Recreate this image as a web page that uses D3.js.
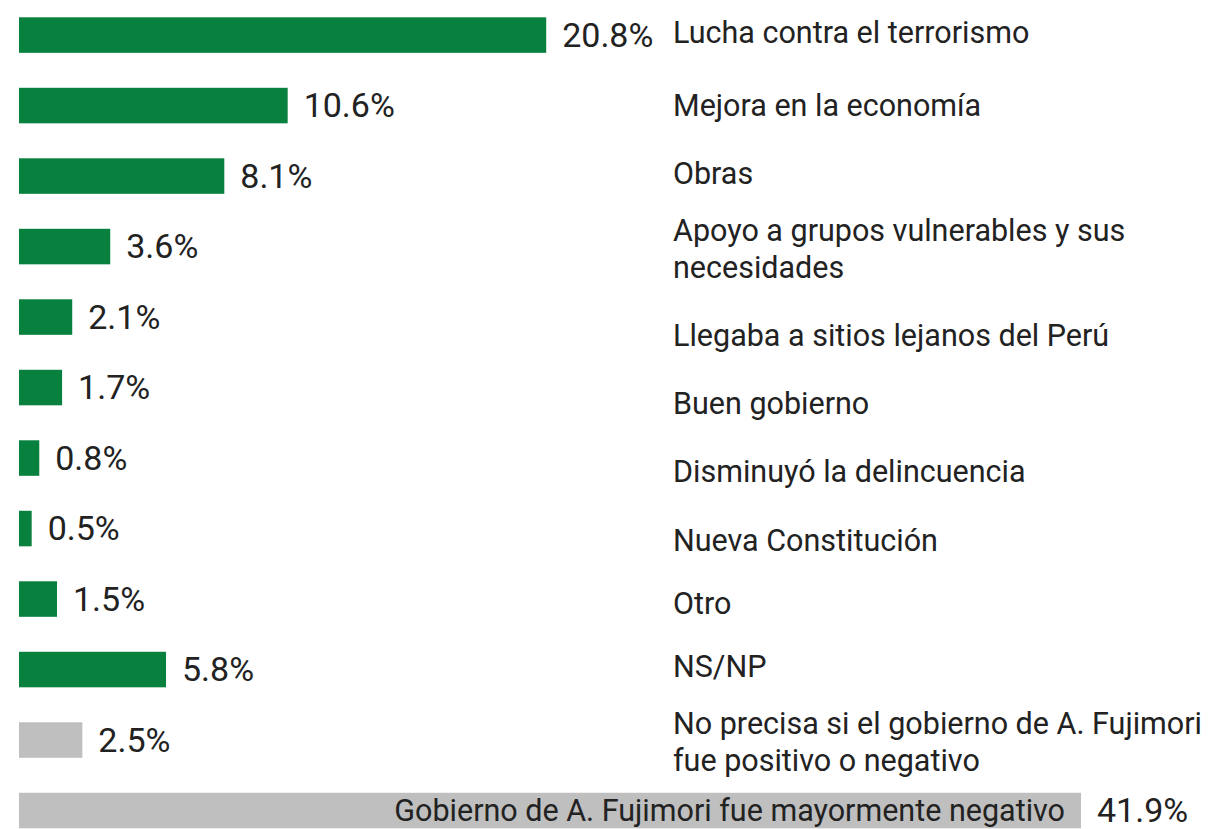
<!DOCTYPE html>
<html>
<head>
<meta charset="utf-8">
<script src="https://cdn.jsdelivr.net/npm/d3@7"></script>
<style>
  body { margin: 0; background: #fff; }
  text { font-family: Roboto, "Noto Sans", sans-serif; fill: #222; }
</style>
</head>
<body>
<div id="chart"></div>
<script>
// chart data
const categories = [
  "Lucha contra el terrorismo",
  "Mejora en la economía",
  "Obras",
  "Apoyo a grupos vulnerables y sus|necesidades",
  "Llegaba a sitios lejanos del Perú",
  "Buen gobierno",
  "Disminuyó la delincuencia",
  "Nueva Constitución",
  "Otro",
  "NS/NP",
  "No precisa si el gobierno de A. Fujimori|fue positivo o negativo",
  "Gobierno de A. Fujimori fue mayormente negativo"
];
const values = [20.8, 10.6, 8.1, 3.6, 2.1, 1.7, 0.8, 0.5, 1.5, 5.8, 2.5, 41.9];
const groups = ["pos", "pos", "pos", "pos", "pos", "pos", "pos", "pos", "pos", "pos", "neutral", "neg"];

const width = 1209, height = 829;

// hand-placed label offsets (px) as in the original layout
const labelShift = [-2.5, 0, -2.3, 2.3, 18, 16, 13, 12, 4, -3, 1.7, 0];

const color = d3.scaleOrdinal()
  .domain(["pos", "neutral", "neg"])
  .range(["#08803e", "#bfbfbf", "#bfbfbf"]);

const svg = d3.select("#chart")
  .append("svg")
  .attr("width", width)
  .attr("height", height);

const xScale = d3.scaleLinear()
  .domain([0, d3.max(values)])
  .range([19, 1081]);

const yScale = d3.scaleBand()
  .domain(d3.range(categories.length))
  .range([17.3, 828.3])
  .paddingInner(0.496)
  .paddingOuter(0);

const rows = categories.map((c, i) => ({ label: c, value: values[i], group: groups[i], i: i }));

// bars
svg.selectAll(".bar")
  .data(rows)
  .enter()
  .append("rect")
  .attr("class", "bar")
  .attr("x", xScale(0))
  .attr("y", d => yScale(d.i))
  .attr("width", d => xScale(d.value) - xScale(0))
  .attr("height", yScale.bandwidth())
  .attr("fill", d => color(d.group));

// value labels
svg.selectAll(".value")
  .data(rows)
  .enter()
  .append("text")
  .attr("class", "value")
  .attr("x", d => xScale(d.value) + 16)
  .attr("y", d => yScale(d.i) + yScale.bandwidth() / 2)
  .attr("dy", "0.35em")
  .style("font-size", "34px")
  .text(d => d.value.toFixed(1) + "%");

// category labels (right column), last one sits inside its bar
const lineH = 37;
const labelX = d => d.group === "neg" ? xScale(d.value) - 16 : 673;

const labels = svg.selectAll(".label")
  .data(rows)
  .enter()
  .append("text")
  .attr("class", "label")
  .style("font-size", "30.5px")
  .attr("text-anchor", d => d.group === "neg" ? "end" : "start")
  .attr("x", labelX)
  .attr("y", d => {
    const n = d.label.split("|").length;
    return yScale(d.i) + yScale.bandwidth() / 2 - (n - 1) * lineH / 2 + labelShift[d.i];
  });

labels.selectAll("tspan")
  .data(d => d.label.split("|").map(t => ({ t: t, x: labelX(d) })))
  .enter()
  .append("tspan")
  .attr("x", d => d.x)
  .attr("dy", (d, j) => j === 0 ? "0.35em" : lineH)
  .text(d => d.t);
</script>
</body>
</html>
